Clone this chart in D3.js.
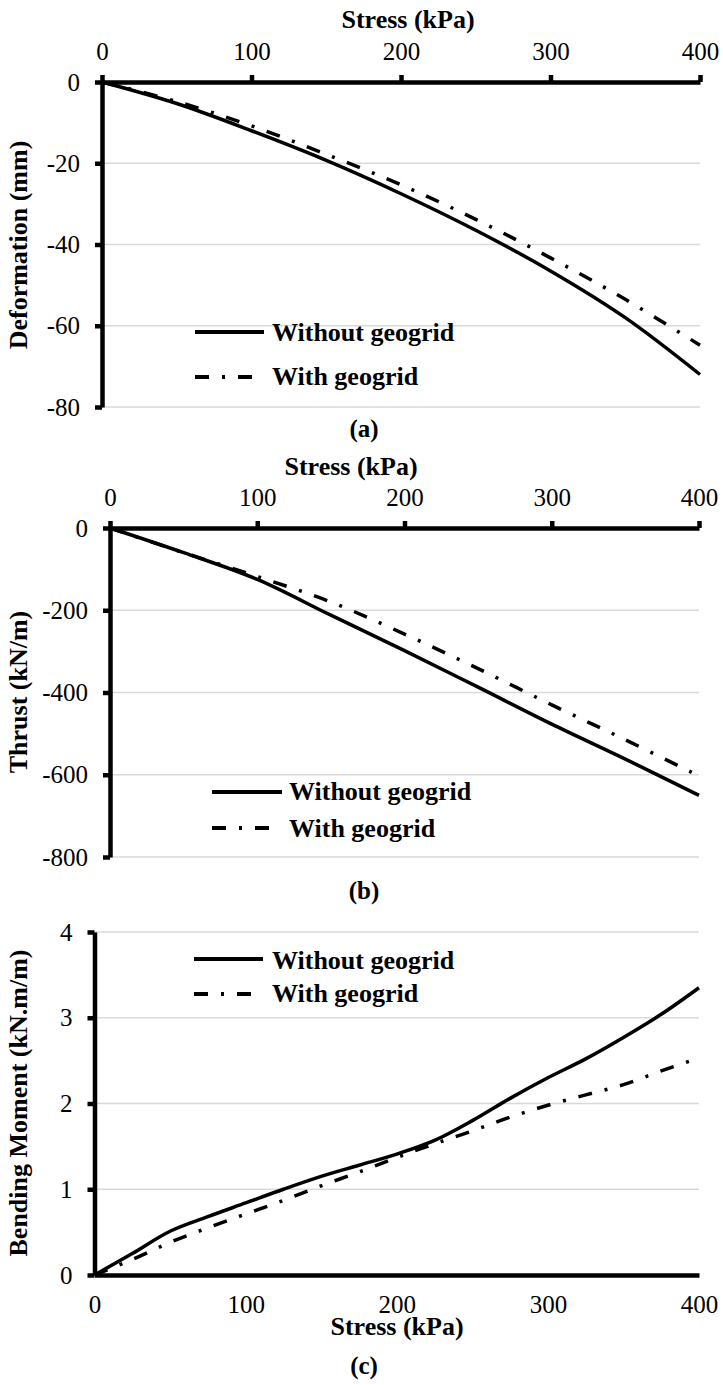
<!DOCTYPE html>
<html>
<head>
<meta charset="utf-8">
<script src="https://cdn.jsdelivr.net/npm/d3@7"></script>
<style>
  html, body { margin: 0; padding: 0; background: #fff; }
  svg { display: block; font-family: "Liberation Serif", "Times New Roman", serif; }
</style>
</head>
<body>
<svg id="chart" width="723" height="1385"></svg>
<script>
// Stress values (kPa)
const stressAB = [0, 50, 100, 150, 200, 250, 300, 350, 400];
const stressC = [0, 25, 50, 75, 100, 125, 150, 175, 200, 225, 250, 275, 300, 325, 350, 375, 400];

// (a) Deformation (mm)
const deformWithout = [0, -5.3, -12, -19.3, -27.5, -36.5, -46.5, -58, -72];
const deformWith = [0, -4.8, -10.8, -17.8, -25.3, -33.8, -43.3, -53.5, -64.8];

// (b) Thrust (kN/m)
const thrustWithout = [0, -60, -125, -212, -298, -387, -477, -562, -650];
const thrustWith = [0, -60, -118, -180, -258, -342, -430, -515, -603];

// (c) Bending moment (kN.m/m)
const momentWithout = [0, 0.25, 0.51, 0.68, 0.84, 1.0, 1.15, 1.28, 1.41, 1.57, 1.8, 2.06, 2.3, 2.52, 2.77, 3.04, 3.35];
const momentWith = [0, 0.18, 0.38, 0.55, 0.71, 0.87, 1.04, 1.2, 1.37, 1.53, 1.68, 1.84, 1.98, 2.1, 2.22, 2.38, 2.53];

const xTicks = [0, 100, 200, 300, 400];
const legendNames = ['Without geogrid', 'With geogrid'];

const FONT = '"Liberation Serif", "Times New Roman", serif';
const DASH = '14,13,3,13';

const svg = d3.select('#chart');
svg.append('rect').attr('width', 723).attr('height', 1385).attr('fill', '#fff');

const panels = [
  {
    x: stressAB, series: [deformWithout, deformWith],
    xRange: [102, 700], yDomain: [-80, 0], yRange: [407, 82], yTicks: [0, -20, -40, -60, -80],
    xAxisTop: true, titleX: 408, titleY: 28,
    yLabel: 'Deformation (mm)', yLabelY: 245,
    caption: '(a)', captionY: 437,
    legend: { x1: 195, x2: 264, textX: 272, rows: [[332, 341], [377, 385]] }
  },
  {
    x: stressAB, series: [thrustWithout, thrustWith],
    xRange: [110, 699], yDomain: [-800, 0], yRange: [857, 528], yTicks: [0, -200, -400, -600, -800],
    xAxisTop: true, titleX: 351, titleY: 475,
    yLabel: 'Thrust (kN/m)', yLabelY: 692,
    caption: '(b)', captionY: 899,
    legend: { x1: 212, x2: 282, textX: 289, rows: [[792, 800], [828, 837]] }
  },
  {
    x: stressC, series: [momentWithout, momentWith],
    xRange: [94.5, 699], yDomain: [0, 4], yRange: [1275, 932], yTicks: [0, 1, 2, 3, 4],
    xAxisTop: false, titleX: 397, titleY: 1335,
    yLabel: 'Bending Moment (kN.m/m)', yLabelY: 1103,
    caption: '(c)', captionY: 1374,
    legend: { x1: 194, x2: 263, textX: 272, rows: [[959, 969], [994, 1002]] }
  }
];

panels.forEach(p => {
  const x = d3.scaleLinear().domain([0, 400]).range(p.xRange);
  const y = d3.scaleLinear().domain(p.yDomain).range(p.yRange);
  const g = svg.append('g');
  const axisY = p.xAxisTop ? y(0) : y(p.yDomain[0]);

  // gridlines
  g.selectAll('.grid').data(p.yTicks.filter(t => y(t) !== axisY)).enter().append('line')
    .attr('x1', p.xRange[0]).attr('x2', p.xRange[1])
    .attr('y1', d => y(d)).attr('y2', d => y(d))
    .attr('stroke', '#d9d9d9').attr('stroke-width', 1.5);

  // data lines
  const line = d3.line().x((d, i) => x(p.x[i])).y(d => y(d)).curve(d3.curveCatmullRom.alpha(0.5));
  p.series.forEach((s, i) => {
    g.append('path').datum(s).attr('d', line)
      .attr('fill', 'none').attr('stroke', '#000').attr('stroke-width', 3.5)
      .attr('stroke-dasharray', i === 1 ? DASH : null);
  });

  // y axis
  const yAxis = g.append('g').attr('transform', `translate(${p.xRange[0]},0)`)
    .call(d3.axisLeft(y).tickValues(p.yTicks).tickSize(7).tickSizeOuter(0).tickPadding(15).tickFormat(d => String(d)));

  // x axis
  const xAxisGen = p.xAxisTop
    ? d3.axisTop(x).tickValues(xTicks).tickSize(7).tickSizeOuter(0).tickPadding(15)
    : d3.axisBottom(x).tickValues(xTicks).tickSize(0).tickSizeOuter(0).tickPadding(20);
  const xAxis = g.append('g').attr('transform', `translate(0,${axisY})`).call(xAxisGen.tickFormat(d => String(d)));

  [xAxis, yAxis].forEach(a => {
    a.attr('font-family', FONT);
    a.select('.domain').attr('stroke', '#000').attr('stroke-width', 4.5);
    a.selectAll('.tick line').attr('stroke', '#000').attr('stroke-width', 4.5);
    a.selectAll('.tick text').attr('fill', '#000').style('font-size', '25px').style('font-family', FONT);
  });

  // axis titles
  g.append('text').attr('x', p.titleX).attr('y', p.titleY).attr('text-anchor', 'middle')
    .style('font-size', '26px').style('font-weight', 'bold').text('Stress (kPa)');
  g.append('text').attr('transform', `translate(18,${p.yLabelY}) rotate(-90)`)
    .attr('text-anchor', 'middle').attr('dominant-baseline', 'central')
    .style('font-size', '26px').style('font-weight', 'bold').text(p.yLabel);
  g.append('text').attr('x', 364).attr('y', p.captionY).attr('text-anchor', 'middle')
    .style('font-size', '25px').style('font-weight', 'bold').text(p.caption);

  // legend
  p.legend.rows.forEach((r, i) => {
    g.append('line').attr('x1', p.legend.x1).attr('x2', i === 1 ? p.legend.x1 + 59 : p.legend.x2)
      .attr('y1', r[0]).attr('y2', r[0])
      .attr('stroke', '#000').attr('stroke-width', 4)
      .attr('stroke-dasharray', i === 1 ? DASH : null);
    g.append('text').attr('x', p.legend.textX).attr('y', r[1])
      .style('font-size', '26px').style('font-weight', 'bold').text(legendNames[i]);
  });
});
</script>
</body>
</html>
